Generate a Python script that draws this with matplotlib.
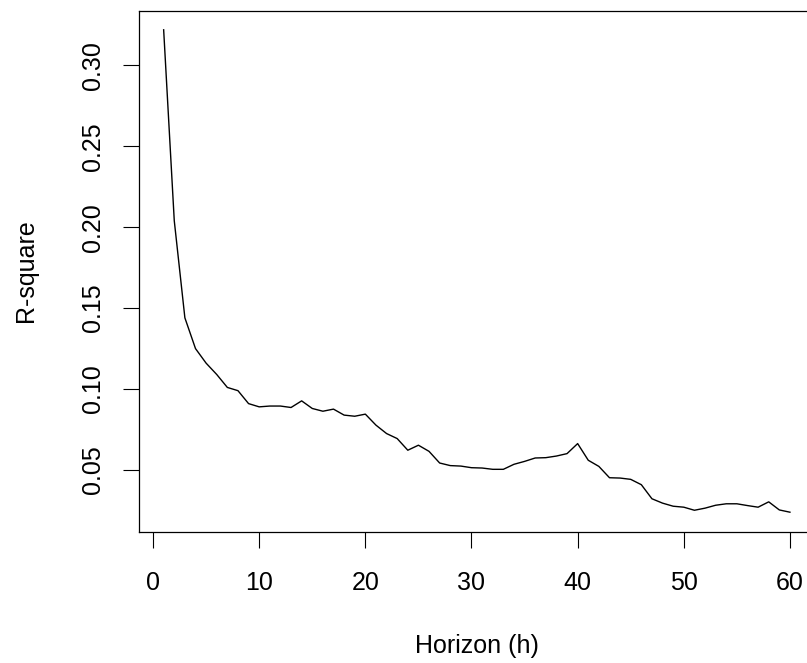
import numpy as np
import matplotlib
matplotlib.use('Agg')
import matplotlib.pyplot as plt

# R-square by forecast horizon
horizon = list(range(1, 61))
rsq = [0.322, 0.204, 0.144, 0.125, 0.116, 0.109, 0.101, 0.099, 0.091, 0.089,
       0.0895, 0.0895, 0.0886, 0.0927, 0.088, 0.0863, 0.0876, 0.0839, 0.0832, 0.0845,
       0.0777, 0.0725, 0.0694, 0.0622, 0.0653, 0.0615, 0.0543, 0.0527, 0.0524, 0.0514,
       0.0512, 0.0504, 0.0504, 0.0535, 0.0553, 0.0574, 0.0576, 0.0586, 0.0601, 0.0663,
       0.056, 0.0522, 0.0452, 0.045, 0.0442, 0.0409, 0.0322, 0.0295, 0.0276, 0.027,
       0.0251, 0.0264, 0.0282, 0.0291, 0.0291, 0.028, 0.027, 0.0303, 0.0253, 0.0239]

xticks = [0, 10, 20, 30, 40, 50, 60]
yticks = [0.05, 0.10, 0.15, 0.20, 0.25, 0.30]
ytick_labels = ['0.05', '0.10', '0.15', '0.20', '0.25', '0.30']

plt.rcParams['font.family'] = ['Liberation Sans', 'DejaVu Sans']

W, H = 807, 663
fig = plt.figure(figsize=(W / 100, H / 100), dpi=100)
# plot region runs past the right edge of the picture, as in the reference
left, right, top, bottom = 138.6, 815.0, 10.5, 531.5
ax = fig.add_axes([left / W, (H - bottom) / H, (right - left) / W, (bottom - top) / H])

ax.plot(horizon, rsq, color='black', lw=1.0)

# R style 4% padding
xr = max(horizon) - min(horizon)
yr = max(rsq) - min(rsq)
ax.set_xlim(min(horizon) - 0.04 * xr, max(horizon) + 0.04 * xr)
ax.set_ylim(min(rsq) - 0.04 * yr, max(rsq) + 0.04 * yr)

ax.set_xticks(xticks)
ax.set_yticks(yticks)
ax.set_yticklabels(ytick_labels, rotation=90, va='center')

ax.tick_params(axis='both', direction='out', length=11.5, width=0.8,
               labelsize=18, colors='black')
ax.tick_params(axis='x', pad=17)
ax.tick_params(axis='y', pad=13)
for s in ax.spines.values():
    s.set_linewidth(0.9)

ax.set_xlabel('Horizon (h)', fontsize=18)
ax.set_ylabel('R-square', fontsize=18)
ax.xaxis.set_label_coords(0.5, -0.196)
ax.yaxis.set_label_coords(-0.148, 0.5)

fig.savefig('out.png', dpi=100)
